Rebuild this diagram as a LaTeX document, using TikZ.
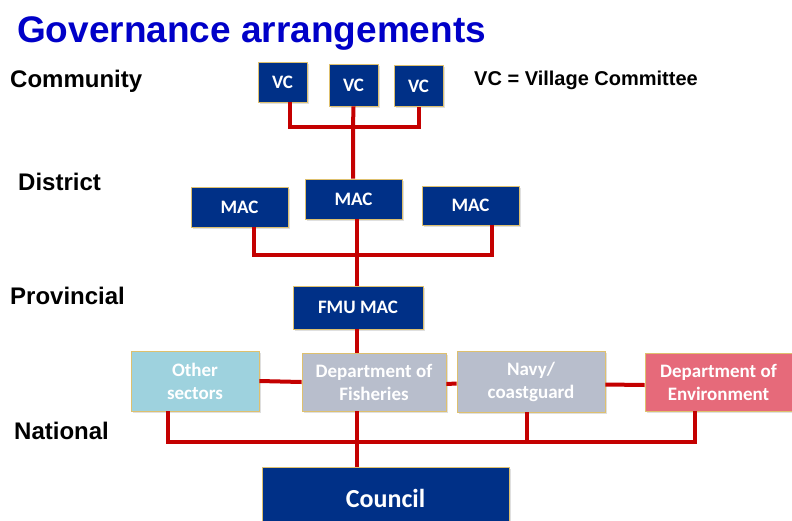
\documentclass[tikz,border=0pt]{standalone}
\usepackage{fontspec}
\setmainfont{Liberation Sans}
\newfontfamily\calib{Carlito}
\usetikzlibrary{shadows}
\definecolor{navyb}{RGB}{0,48,135}
\definecolor{lightb}{RGB}{158,210,222}
\definecolor{grayb}{RGB}{184,190,204}
\definecolor{pinkb}{RGB}{230,106,122}
\definecolor{linkred}{RGB}{196,0,0}
\definecolor{gold}{RGB}{222,192,110}
\definecolor{titleblue}{RGB}{0,0,200}
\tikzset{
  box/.style={draw=gold, line width=0.8pt, fill=navyb, text=white, inner sep=0pt, align=center,
    font=\calib\bfseries\fontsize{19}{23}\selectfont,
    drop shadow={opacity=0.25, shadow xshift=1.5pt, shadow yshift=-1.5pt}},
  link/.style={draw=linkred, line width=4pt},
  lvl/.style={anchor=west, inner sep=0pt, font=\bfseries\fontsize{24}{27}\selectfont},
}
\begin{document}
\begin{tikzpicture}[x=1pt,y=-1pt]
\useasboundingbox (0,0) rectangle (792,520);
\node[anchor=west, inner sep=0pt, text=titleblue, font=\bfseries\fontsize{37}{41}\selectfont] (title) at (17,33) {Governance arrangements};
\node[lvl] (lcom) at (10,81) {Community};
\node[lvl] (ldis) at (18,182) {District};
\node[lvl] (lpro) at (10,296) {Provincial};
\node[lvl] (lnat) at (14,431) {National};
\node[anchor=west, inner sep=0pt, font=\bfseries\fontsize{20}{24}\selectfont] (legend) at (474,80) {VC = Village Committee};
% community
\node[box, minimum width=49pt, minimum height=40pt] (vc1) at (282.5,82) {VC};
\node[box, minimum width=49pt, minimum height=42pt] (vc2) at (353.5,85) {VC};
\node[box, minimum width=49pt, minimum height=41pt] (vc3) at (418.5,86) {VC};
% district
\node[box, minimum width=97pt, minimum height=40pt] (mac1) at (239.5,207) {MAC};
\node[box, minimum width=97pt, minimum height=40pt] (mac2) at (353.5,199) {MAC};
\node[box, minimum width=97pt, minimum height=39pt] (mac3) at (470.5,205.5) {MAC};
% provincial
\node[box, minimum width=130pt, minimum height=43pt] (fmu) at (358,307.5) {FMU MAC};
% national
\node[box, fill=lightb, minimum width=128pt, minimum height=60pt] (oth) at (195,381) {Other\\sectors};
\node[box, fill=grayb, minimum width=144pt, minimum height=58pt] (fish) at (374,382) {Department of\\Fisheries};
\node[box, fill=grayb, minimum width=148pt, minimum height=61pt] (navy) at (531,381.5) {Navy/\\coastguard};
\node[box, fill=pinkb, minimum width=147pt, minimum height=58pt] (env) at (718.5,382) {Department of\\Environment};
\node[box, minimum width=247pt, minimum height=63pt, font=\calib\bfseries\fontsize{26}{30}\selectfont] (council) at (385.5,498.5) {Council};
% connectors
\coordinate (j1) at (353,127);
\coordinate (j2) at (357,255);
\coordinate (j3) at (357,442);
\draw[link] ([xshift=7pt]vc1.south) |- (vc3.south |- j1) -- (vc3.south);
\draw[link] (vc2.south) -- (j1) -- (mac2.north -| j1);
\draw[link] ([xshift=14.5pt]mac1.south) |- ([xshift=21.5pt]mac3.south |- j2) -- ([xshift=21.5pt]mac3.south);
\draw[link] ([xshift=3.5pt]mac2.south) -- (j2) -- (fmu.north -| j2);
\draw[link] (fmu.south -| j2) -- (fish.north -| j2);
\draw[link] (oth.east) -- (fish.west);
\draw[link] ([yshift=-2pt]fish.east) -- ([yshift=-2pt]navy.west);
\draw[link] ([yshift=-3pt]navy.east) -- ([yshift=-3pt]env.west);
\draw[link] ([xshift=-27pt]oth.south) |- ([xshift=-23.5pt]env.south |- j3) -- ([xshift=-23.5pt]env.south);
\draw[link] ([xshift=-4pt]navy.south) -- ([xshift=-4pt]navy.south |- j3);
\draw[link] (fish.south -| j3) -- (j3) -- (council.north -| j3);
\end{tikzpicture}
\end{document}
